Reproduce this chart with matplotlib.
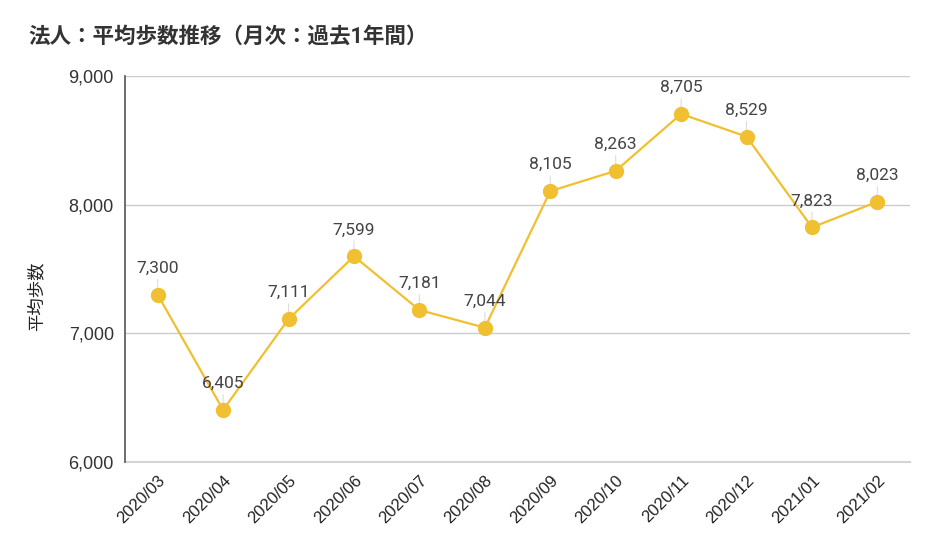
import matplotlib
matplotlib.use("Agg")
import matplotlib.pyplot as plt

months = ["2020/03", "2020/04", "2020/05", "2020/06", "2020/07", "2020/08",
          "2020/09", "2020/10", "2020/11", "2020/12", "2021/01", "2021/02"]
steps = [7300, 6405, 7111, 7599, 7181, 7044, 8105, 8263, 8705, 8529, 7823, 8023]
yticks = [6000, 7000, 8000, 9000]

plt.rcParams['font.family'] = ['Roboto', 'Noto Sans CJK JP', 'DejaVu Sans']
tick_font = ['Liberation Sans', 'DejaVu Sans']

fig = plt.figure(figsize=(9.27, 5.42), dpi=100)
ax = fig.add_axes([0.1348, 0.1476, 0.847, 0.7122])

x = list(range(len(months)))
ax.plot(x, steps, color='#F0C030', lw=1.6, marker='o', ms=10, zorder=3)

for i, v in zip(x, steps):
    ax.annotate(f"{v:,}", (i, v), xytext=(0, 19), textcoords='offset points',
                ha='center', va='center', fontsize=12.5, color='#444444', zorder=4)
    ax.annotate("", (i, v), xytext=(0, 11), textcoords='offset points',
                arrowprops=dict(arrowstyle='-', color='#dddddd', lw=0.8,
                                shrinkA=0, shrinkB=5), zorder=2)

ax.set_xlim(-0.5, len(months) - 0.5)
ax.set_ylim(6000, 9000)
ax.set_yticks(yticks)
ax.set_yticklabels([f"{t:,}" for t in yticks], fontsize=13, color='#333333',
                   family=tick_font)
ax.set_xticks(x)
ax.set_xticklabels(months, rotation=45, ha='right', rotation_mode='anchor',
                   fontsize=12, color='#222222', family=tick_font)
ax.tick_params(axis='y', length=0, pad=8)
ax.tick_params(axis='x', length=0, pad=8)

ax.grid(axis='y', color='#cccccc', lw=1)
ax.axhline(6000, color='#d4d4d4', lw=1.5, clip_on=False, zorder=1)
ax.set_axisbelow(True)
for s in ['top', 'right', 'bottom']:
    ax.spines[s].set_visible(False)
ax.spines['left'].set_color('#555555')
ax.spines['left'].set_linewidth(1.2)
ax.spines['left'].set_zorder(2)

ax.set_ylabel("平均歩数", fontsize=12.5, color='#222222')
ax.yaxis.set_label_coords(-0.102, 0.43)

fig.text(28 / 927, 1 - 37 / 542, "法人：平均歩数推移（月次：過去1年間）",
         fontsize=15.5, fontweight='bold', color='#333333', va='center', ha='left')

fig.savefig("out.png", dpi=100, facecolor='white')
